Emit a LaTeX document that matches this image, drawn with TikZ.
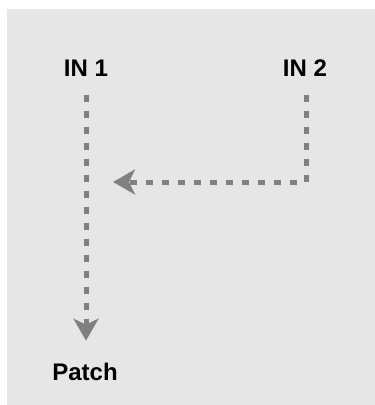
\documentclass[tikz,border=0pt]{standalone}
\usepackage{fontspec}
\setmainfont{Liberation Sans}
\usetikzlibrary{arrows.meta}
\definecolor{panel}{HTML}{E6E6E6}
\definecolor{wire}{HTML}{808080}

\begin{document}
\begin{tikzpicture}[x=1pt,y=-1pt,line width=5pt,font=\fontsize{24}{28}\selectfont\bfseries,
  lbl/.style={inner sep=0pt},
  feed/.style={draw=wire,dash pattern=on 7pt off 9pt,-{Stealth[length=22pt,width=25pt,inset=6pt]}}]
\useasboundingbox (0,0) rectangle (375,405);
\fill[panel] (7,9) rectangle (375,405);
\node[lbl] (in1) at (86,68) {IN 1};
\node[lbl] (in2) at (305,68) {IN 2};
\node[lbl] (patch) at (85,372) {Patch};
\coordinate (bend) at (306,182);
\coordinate (join) at (113,182);
\draw[feed,shorten <=16pt,shorten >=20pt] (in1.south) -- (in1.south|-patch.north);
\draw[feed,shorten <=16pt] ([xshift=1pt]in2.south) -- (bend) -- (join);
\end{tikzpicture}
\end{document}
